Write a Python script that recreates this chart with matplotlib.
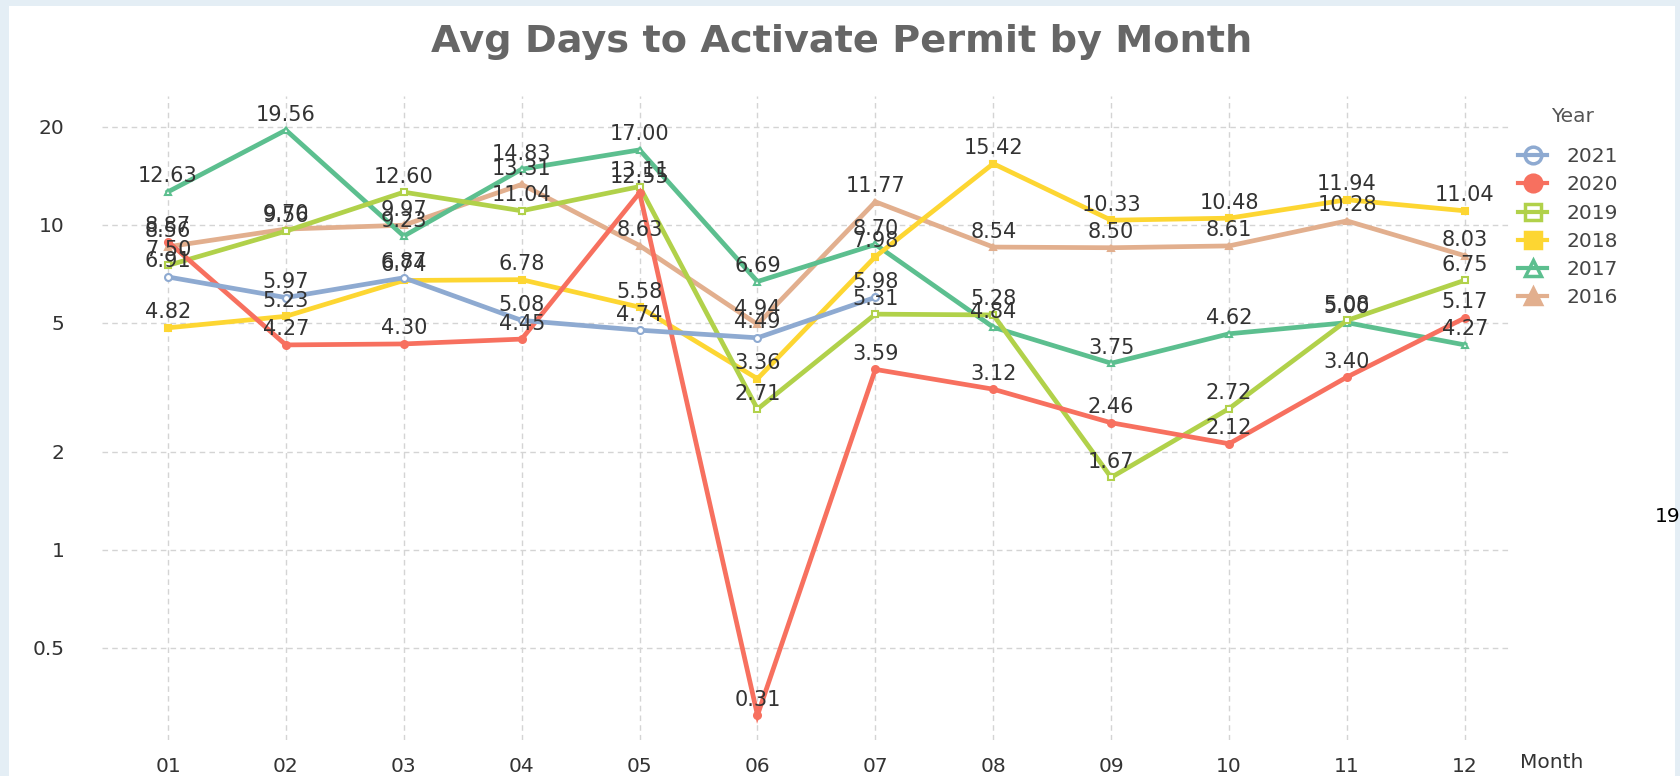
import numpy as np
import matplotlib
matplotlib.use('Agg')
import matplotlib.pyplot as plt
from matplotlib.lines import Line2D
from matplotlib.patches import Rectangle

months = ['01', '02', '03', '04', '05', '06', '07', '08', '09', '10', '11', '12']
years = ['2021', '2020', '2019', '2018', '2017', '2016']

nan = np.nan
v2021 = [6.91, 5.97, 6.87, 5.08, 4.74, 4.49, 5.98, nan, nan, nan, nan, nan]
v2020 = [8.87, 4.27, 4.30, 4.45, 12.55, 0.31, 3.59, 3.12, 2.46, 2.12, 3.40, 5.17]
v2019 = [7.50, 9.56, 12.60, 11.04, 13.11, 2.71, 5.31, 5.28, 1.67, 2.72, 5.08, 6.75]
v2018 = [4.82, 5.23, 6.74, 6.78, 5.58, 3.36, 7.98, 15.42, 10.33, 10.48, 11.94, 11.04]
v2017 = [12.63, 19.56, 9.23, 14.83, 17.00, 6.69, 8.70, 4.84, 3.75, 4.62, 5.00, 4.27]
v2016 = [8.56, 9.70, 9.97, 13.31, 8.63, 4.94, 11.77, 8.54, 8.50, 8.61, 10.28, 8.03]
valeurs = [v2021, v2020, v2019, v2018, v2017, v2016]

couleurs = ['#8eaad1', '#f7705f', '#b1d14a', '#fdd632', '#5cbf8f', '#e2af8e']
marqueurs = ['o', 'o', 's', 's', '^', '^']
creux = [True, False, True, False, True, False]

yticks = [0.5, 1, 2, 5, 10, 20]
ytick_labels = ['0.5', '1', '2', '5', '10', '20']

W, H = 1681, 776
fig = plt.figure(figsize=(W / 100, H / 100), dpi=100, facecolor='#e4eef5')
fig.patches.append(Rectangle((9 / W, 0), (1675 - 9) / W, 1 - 6 / H,
                             transform=fig.transFigure, facecolor='white',
                             edgecolor='none', zorder=-5))

ax = fig.add_axes([102 / W, 1 - 740 / H, (1512 - 102) / W, (740 - 96) / H])
ax.set_facecolor('none')
x = np.arange(1, 13)

for i in range(len(years) - 1, -1, -1):
    y = np.array(valeurs[i], dtype=float)
    face = 'white' if creux[i] else couleurs[i]
    ax.plot(x, y, color=couleurs[i], lw=3.4, marker=marqueurs[i], ms=5,
            mfc=face, mec=couleurs[i], mew=1.5, zorder=3 + (6 - i) * 0.1,
            solid_joinstyle='miter')
    for xi, yi in zip(x, y):
        if np.isnan(yi):
            continue
        ax.annotate('%.2f' % yi, (xi, yi), xytext=(0, 4), textcoords='offset points',
                    ha='center', va='bottom', fontsize=15, color='#333333', zorder=10)

ax.set_yscale('log')
ax.set_xlim(0.44, 12.40)
ax.set_ylim(0.26, 24.9)
ax.set_yticks(yticks)
ax.set_yticklabels(ytick_labels)
ax.minorticks_off()
ax.set_xticks(x)
ax.set_xticklabels(months)
ax.tick_params(length=0, labelsize=14.5, labelcolor='#333333')
ax.tick_params(axis='x', pad=12)
ax.tick_params(axis='y', pad=27)
ax.grid(True, color='#d4d4d4', linestyle=(0, (4, 3)), lw=1)
for s in ax.spines.values():
    s.set_visible(False)

fig.text(842 / W, 1 - 42 / H, 'Avg Days to Activate Permit by Month', ha='center', va='center',
         fontsize=27.5, fontweight='bold', color='#666666')
fig.text(1520 / W, 1 - 763 / H, 'Month', ha='left', va='center', fontsize=14.5, color='#333333')
fig.text(1655 / W, 1 - 517 / H, '19', ha='left', va='center', fontsize=14.5, color='black')

# legende
fig.text(1551 / W, 1 - 116 / H, 'Year', ha='left', va='center', fontsize=14.5, color='#555555')
poignees = [Line2D([0], [0], color=couleurs[i], lw=3, marker=marqueurs[i], ms=12,
                   mfc='none' if creux[i] else couleurs[i], mec=couleurs[i], mew=2.5)
            for i in range(len(years))]
leg = fig.legend(poignees, years, loc='upper left',
                 bbox_to_anchor=(1510 / W, 1 - 139 / H), borderaxespad=0, frameon=False,
                 fontsize=14.5, handlelength=1.45, labelspacing=0.46,
                 handletextpad=0.95, labelcolor='#444444')

fig.savefig('out.png', dpi=100, facecolor=fig.get_facecolor())
